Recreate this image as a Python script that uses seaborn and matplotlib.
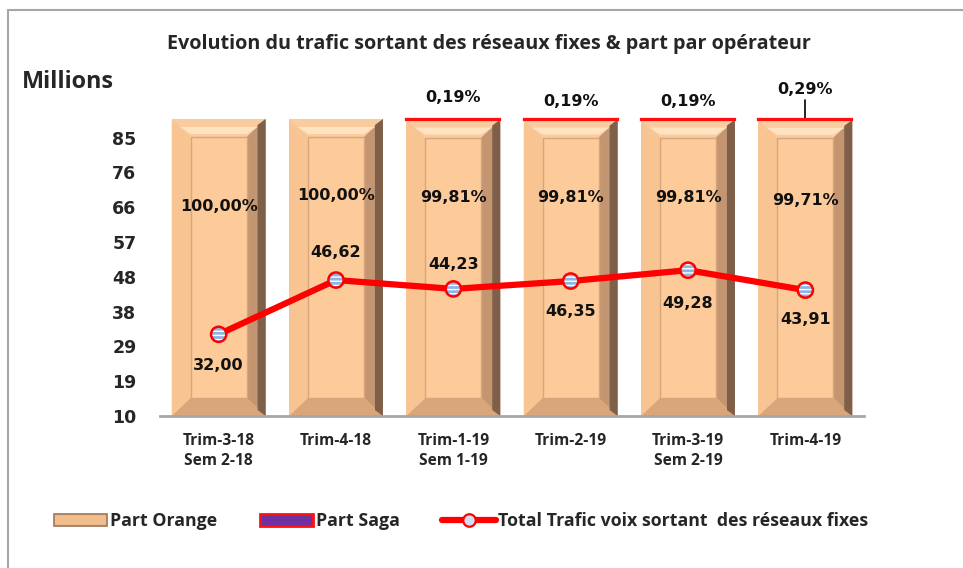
import numpy as np
import matplotlib
matplotlib.use("Agg")
import matplotlib.pyplot as plt
import seaborn as sns
from matplotlib.patches import Polygon, Patch, Rectangle
from matplotlib.lines import Line2D
from matplotlib.transforms import IdentityTransform

# ---- data ----
categories = ["Trim-3-18\nSem 2-18", "Trim-4-18", "Trim-1-19\nSem 1-19",
              "Trim-2-19", "Trim-3-19\nSem 2-19", "Trim-4-19"]
part_orange = [100.00, 100.00, 99.81, 99.81, 99.81, 99.71]
part_saga = [0.00, 0.00, 0.19, 0.19, 0.19, 0.29]
total_trafic = [32.00, 46.62, 44.23, 46.35, 49.28, 43.91]
ytick_values = [10, 19.375, 28.75, 38.125, 47.5, 56.875, 66.25, 75.625, 85]
ytick_labels = ["10", "19", "29", "38", "48", "57", "66", "76", "85"]

# label placement (styling)
orange_label_y = [70.7, 74.4, 73.7, 73.7, 73.7, 72.7]
line_label_off = [-8.3, 7.5, 6.6, -8.3, -9.0, -7.8]
saga_label_px = [None, None, 97, 101, 101, 90]

sns.set_theme(style="white")
CAL = ["Open Sans", "DejaVu Sans"]
WIDE = ["DejaVu Sans"]
plt.rcParams["font.family"] = WIDE

fig = plt.figure(figsize=(9.63, 5.68), dpi=100)
fig.patch.set_facecolor("white")
ax = fig.add_axes([160/963, 1-416/568, 704/963, 297/568])
ax.set_facecolor("none")

x = np.arange(len(categories))
face = "#FDCA9A"
sns.barplot(x=x, y=part_orange, ax=ax, color=face, width=0.8,
            saturation=1, edgecolor="none", native_scale=False, zorder=1)
saga_edges = ["#FF1010" if v > 0 else "none" for v in part_saga]
sns.barplot(x=x, y=part_saga, bottom=part_orange, ax=ax, color="#7030A0",
            width=0.8, saturation=1, edgecolor=saga_edges, linewidth=1.6,
            native_scale=False, zorder=3)
ax.set_xlim(-0.5, len(categories) - 0.5)
ax.set_ylim(0, 100)
for p in ax.patches:
    p.set_clip_on(False)

# bevel decoration on orange bars
orange_bars = ax.patches[:len(categories)]
bx, by = 19, 18
for p in orange_bars:
    x0, y0 = p.get_x(), p.get_y()
    x1, y1 = x0 + p.get_width(), y0 + p.get_height()
    (X0, Y0), (X1, Y1) = ax.transData.transform([(x0, y0), (x1, y1)])
    iX0, iX1, iY0, iY1 = X0 + bx, X1 - bx, Y0 + by, Y1 - by
    facets = [
        ([(X0, Y1), (X1, Y1), (iX1, iY1), (iX0, iY1)], "#F9CC9F"),   # top
        ([(X0, Y0), (X0, Y1), (iX0, iY1), (iX0, iY0)], "#F8C592"),   # left
        ([(X1, Y0), (X1, Y1), (iX1, iY1), (iX1, iY0)], "#C39571"),   # right
        ([(X0, Y0), (X1, Y0), (iX1, iY0), (iX0, iY0)], "#D9A67C"),   # bottom
    ]
    for pts, c in facets:
        ax.add_artist(Polygon(pts, closed=True, facecolor=c, edgecolor="none",
                              transform=IdentityTransform(), zorder=1.5, clip_on=False))
    # light highlight along inner top edge
    ax.add_artist(Polygon([(X0 + 8, Y1 - 8), (X1 - 8, Y1 - 8), (iX1, iY1 + 3), (iX0, iY1 + 3)],
                          closed=True, facecolor="#FFE2C0", edgecolor="none",
                          transform=IdentityTransform(), zorder=1.55, clip_on=False))
    # right darker strip
    ax.add_artist(Polygon([(X1 - 8, Y0 + 6), (X1, Y0), (X1, Y1), (X1 - 8, Y1 - 6)],
                          closed=True, facecolor="#7E604A", edgecolor="none",
                          transform=IdentityTransform(), zorder=1.6, clip_on=False))
    ax.add_artist(Rectangle((iX0, iY0), iX1 - iX0, iY1 - iY0, facecolor=face,
                            edgecolor="#D7A67E", linewidth=1.0,
                            transform=IdentityTransform(), zorder=1.7, clip_on=False))

# orange labels
for i, v in enumerate(part_orange):
    ax.text(x[i], orange_label_y[i], f"{v:.2f}%".replace(".", ","), ha="center",
            va="center", fontsize=11.5, fontweight="bold", color="#111111", zorder=5)

# saga labels
for i, v in enumerate(part_saga):
    if v > 0:
        ypos = 100 + (119 - saga_label_px[i]) / 297 * 100
        ax.text(x[i], ypos, f"{v:.2f}%".replace(".", ","), ha="center",
                va="center", fontsize=11.5, fontweight="bold", color="#111111",
                clip_on=False)
        if saga_label_px[i] < 95:
            ax.plot([x[i], x[i]], [100.3, ypos - 3.4], color="black", lw=1.2,
                    clip_on=False)

ax.set_xticks(x)
ax.set_xticklabels(categories, fontsize=11.2, fontweight="bold", family=CAL,
                   linespacing=1.35)
ax.tick_params(axis="x", length=0, pad=12)
ax.set_yticks([])
for s in ["left", "right", "top"]:
    ax.spines[s].set_visible(False)
ax.spines["bottom"].set_color("#A6A6A6")
ax.spines["bottom"].set_linewidth(2)
ax.spines["bottom"].set_zorder(4)
ax.set_xlabel("")
ax.set_ylabel("")

# line axis
ax2 = ax.twinx()
ax2.set_ylim(10, 90)
sns.lineplot(x=x, y=total_trafic, ax=ax2, color="#FF0000", linewidth=4.5, zorder=3)
ax2.scatter(x, total_trafic, s=120, facecolor="#8FB3E3", edgecolor="white",
            hatch="----", linewidth=0, zorder=4)
ax2.scatter(x, total_trafic, s=120, facecolor="none", edgecolor="#FF0000",
            linewidth=1.8, zorder=5)
for i, v in enumerate(total_trafic):
    ax2.text(x[i], v + line_label_off[i], f"{v:.2f}".replace(".", ","), ha="center",
             va="center", fontsize=11.5, fontweight="bold", color="#111111", zorder=6)
ax2.yaxis.tick_left()
ax2.set_yticks(ytick_values)
ax2.set_yticklabels(ytick_labels, fontsize=12.5, fontweight="bold")
ax2.tick_params(axis="y", length=0, pad=17)
for s in ax2.spines.values():
    s.set_visible(False)
ax2.set_ylabel("")

# title and unit
fig.text(489/963, 1-44/568, "Evolution du trafic sortant des réseaux fixes & part par opérateur",
         ha="center", va="center", fontsize=14.2, fontweight="bold", family=CAL)
fig.text(22/963, 1-82/568, "Millions", ha="left", va="center", fontsize=16.8,
         fontweight="bold", family=CAL)

# legend
handles = [
    Patch(facecolor="#F2BD8C", edgecolor="#9C7556", linewidth=1.2),
    Patch(facecolor="#7030A0", edgecolor="#FF1010", linewidth=2),
    Line2D([0], [0], color="#FF0000", lw=4.5, marker="o", markersize=9,
           markerfacecolor="#CFE0F5", markeredgecolor="#FF0000", markeredgewidth=1.6),
]
labels = ["Part Orange", "Part Saga", "Total Trafic voix sortant  des réseaux fixes"]
leg = fig.legend(handles, labels, loc="center left", bbox_to_anchor=(38/963, 1-521/568),
                 ncol=3, frameon=False, handlelength=3.0, handleheight=0.7,
                 handletextpad=0.15, columnspacing=2.4,
                 prop={"family": CAL, "weight": "bold", "size": 12.8})

# frame border
fig.add_artist(Line2D([8/963, 1.0], [1-10/568, 1-10/568], color="#A6A6A6", lw=1.5,
                      transform=fig.transFigure))
fig.add_artist(Line2D([8/963, 8/963], [0, 1-10/568], color="#A6A6A6", lw=1.5,
                      transform=fig.transFigure))

fig.savefig("out.png", dpi=100, facecolor="white")
